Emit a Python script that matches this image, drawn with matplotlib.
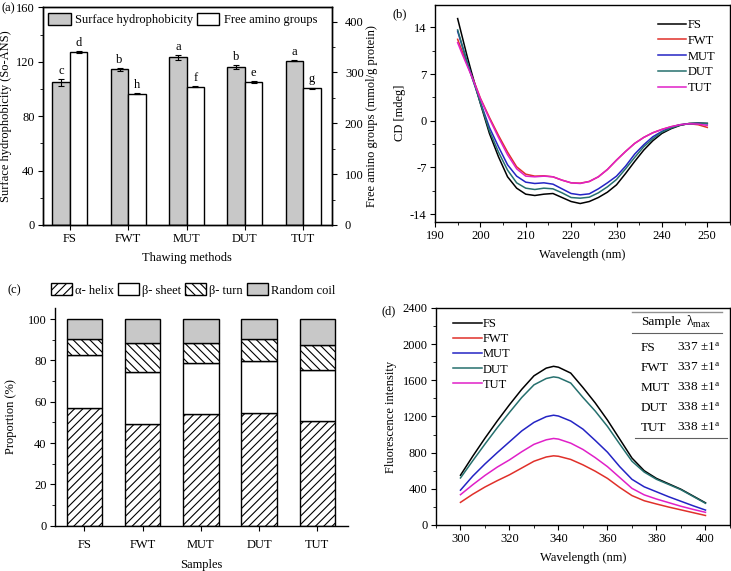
import numpy as np
import matplotlib
matplotlib.use("Agg")
import matplotlib.pyplot as plt
from matplotlib.patches import Patch
from matplotlib.ticker import MultipleLocator

plt.rcParams['font.family'] = ['Liberation Serif', 'DejaVu Serif']
plt.rcParams['font.size'] = 9
plt.rcParams['axes.unicode_minus'] = False
plt.rcParams['mathtext.fontset'] = 'custom'
plt.rcParams['mathtext.rm'] = 'Liberation Serif'
plt.rcParams['mathtext.it'] = 'Liberation Serif'
plt.rcParams['hatch.linewidth'] = 0.8
plt.rcParams['axes.linewidth'] = 1.0
plt.rcParams['xtick.direction'] = 'out'
plt.rcParams['ytick.direction'] = 'out'
plt.rcParams['xtick.major.size'] = 3.5
plt.rcParams['ytick.major.size'] = 3.5
plt.rcParams['xtick.minor.size'] = 2
plt.rcParams['ytick.minor.size'] = 2
plt.rcParams['xtick.major.pad'] = 2.5
plt.rcParams['ytick.major.pad'] = 2.5

FS = 9

# (a) surface hydrophobicity / free amino groups
methods = ['FS', 'FWT', 'MUT', 'DUT', 'TUT']
hydro = [104.8, 114.6, 123.2, 116.3, 120.7]
hydro_err = [2.5, 1.0, 2.0, 1.5, 0.4]
hydro_sig = ['c', 'b', 'a', 'b', 'a']
amino = [340.5, 258.3, 272.0, 281.3, 268.8]
amino_err = [1.5, 1.5, 1.5, 1.5, 1.5]
amino_sig = ['d', 'h', 'f', 'e', 'g']

# (b) CD spectra
cd_wl = [195, 196, 197, 198, 199, 200, 202, 204, 206, 208, 210, 212, 214, 216, 218,
         220, 222, 224, 226, 228, 230, 232, 234, 236, 238, 240, 242, 244, 246, 248, 250]
cd_fs = [15.3, 12.6, 9.9, 7.4, 5.0, 2.6, -1.9, -5.4, -8.4, -10.1, -11.0, -11.2, -11.0, -10.9, -11.5,
         -12.1, -12.4, -12.1, -11.5, -10.7, -9.6, -7.9, -6.1, -4.4, -3.0, -1.9, -1.2, -0.7, -0.4, -0.35, -0.4]
cd_fwt = [12.2, 10.4, 8.6, 6.9, 5.2, 3.4, 0.5, -2.2, -4.7, -6.9, -8.0, -8.3, -8.25, -8.4, -8.9,
          -9.3, -9.35, -9.1, -8.4, -7.3, -5.9, -4.6, -3.4, -2.5, -1.8, -1.3, -0.9, -0.6, -0.45, -0.6, -1.0]
cd_mut = [13.4, 11.2, 9.0, 6.9, 4.9, 2.8, -1.0, -3.9, -6.6, -8.3, -9.2, -9.4, -9.3, -9.5, -10.2,
          -10.9, -11.1, -10.95, -10.2, -9.3, -8.3, -6.8, -5.0, -3.6, -2.4, -1.6, -1.0, -0.6, -0.45, -0.4, -0.45]
cd_dut = [13.6, 11.3, 9.0, 6.8, 4.8, 2.7, -1.5, -4.7, -7.4, -9.3, -10.1, -10.3, -10.1, -10.2, -10.8,
          -11.5, -11.6, -11.45, -10.8, -9.9, -8.8, -7.2, -5.5, -3.9, -2.7, -1.7, -1.1, -0.65, -0.45, -0.4, -0.4]
cd_tut = [11.7, 10.0, 8.4, 6.8, 5.1, 3.3, 0.3, -2.5, -5.1, -7.2, -8.3, -8.4, -8.3, -8.4, -8.9,
          -9.3, -9.4, -9.1, -8.4, -7.3, -5.9, -4.6, -3.4, -2.5, -1.8, -1.3, -0.9, -0.6, -0.45, -0.5, -0.7]

# (c) secondary structure (%)
helix = [56.8, 49.3, 54.0, 54.5, 50.7]
sheet = [25.7, 25.0, 24.8, 25.0, 24.8]
turn = [7.8, 14.2, 9.7, 10.8, 11.8]
coil = [9.7, 11.5, 11.5, 9.7, 12.7]

# (d) intrinsic fluorescence
fl_wl = [300, 305, 310, 315, 320, 325, 330, 335, 338, 340, 345, 350, 355, 360,
         365, 370, 375, 380, 385, 390, 395, 400]
fl_fs = [550, 760, 960, 1150, 1330, 1500, 1650, 1735, 1755, 1745, 1680, 1520, 1350, 1160,
         950, 740, 600, 515, 455, 395, 320, 245]
fl_fwt = [250, 340, 420, 490, 555, 630, 705, 752, 765, 760, 725, 665, 595, 515,
          415, 325, 268, 232, 198, 167, 136, 105]
fl_mut = [385, 540, 675, 800, 920, 1040, 1135, 1198, 1214, 1205, 1150, 1060, 935, 805,
          645, 505, 422, 367, 312, 262, 212, 165]
fl_dut = [520, 710, 895, 1075, 1245, 1410, 1550, 1620, 1638, 1630, 1570, 1410, 1260, 1090,
          895, 705, 585, 505, 448, 390, 315, 240]
fl_tut = [335, 445, 548, 640, 720, 810, 892, 942, 957, 950, 905, 835, 745, 645,
          525, 405, 333, 287, 247, 207, 172, 140]
lam_max = ['337', '337', '338', '338', '338']

colors = {'FS': 'black', 'FWT': '#e0302a', 'MUT': '#2424c4', 'DUT': '#26706e', 'TUT': '#e020c8'}

fig = plt.figure(figsize=(7.31, 5.71), dpi=100)

# ---------------- (a)
ax = fig.add_axes([0.0588, 0.606, 0.395, 0.381])
ax2 = ax.twinx()
x = np.arange(len(methods))
w = 0.3
ax.bar(x - w / 2, hydro, w, color='#c8c8c8', edgecolor='black', linewidth=1,
       yerr=hydro_err, capsize=2.5, error_kw=dict(elinewidth=0.8, capthick=0.8))
ax2.bar(x + w / 2, amino, w, color='white', edgecolor='black', linewidth=1,
        yerr=amino_err, capsize=2.5, error_kw=dict(elinewidth=0.8, capthick=0.8))
for i in range(len(methods)):
    ax.annotate(hydro_sig[i], (x[i] - w / 2, hydro[i] + hydro_err[i]), xytext=(0, 1.5),
                textcoords='offset points', ha='center', va='bottom', fontsize=FS)
    ax2.annotate(amino_sig[i], (x[i] + w / 2, amino[i] + amino_err[i]), xytext=(0, 1.5),
                 textcoords='offset points', ha='center', va='bottom', fontsize=FS)
ax.set_xlim(-0.463, 4.49)
ax.set_ylim(0, 160)
ax2.set_ylim(0, 428)
ax.set_yticks([0, 40, 80, 120, 160])
ax.yaxis.set_minor_locator(MultipleLocator(20))
ax2.set_yticks([0, 100, 200, 300, 400])
ax2.yaxis.set_minor_locator(MultipleLocator(50))
ax.set_xticks(x)
ax.set_xticklabels(methods)
ax.tick_params(labelsize=FS)
ax2.tick_params(labelsize=FS, pad=6)
ax.set_xlabel('Thawing methods', fontsize=FS, labelpad=5)
ax.set_ylabel('Surface hydrophobicity (So-ANS)', fontsize=FS, labelpad=3)
ax2.set_ylabel('Free amino groups (mmol/g protein)', fontsize=FS, labelpad=2)
ax.legend(handles=[Patch(facecolor='#c8c8c8', edgecolor='black', label='Surface hydrophobicity'),
                   Patch(facecolor='white', edgecolor='black', label='Free amino groups')],
          loc='center', bbox_to_anchor=(0.484, 0.943), ncol=2, frameon=False, fontsize=FS,
          handlelength=1.8, handleheight=1.1, handletextpad=0.35, columnspacing=0.3)
fig.text(0.002, 0.985, '(a)', fontsize=FS, va='center')

# ---------------- (b)
bx = fig.add_axes([0.595, 0.612, 0.4036, 0.380])
for name, ys in zip(methods, [cd_fs, cd_fwt, cd_mut, cd_dut, cd_tut]):
    bx.plot(cd_wl, ys, color=colors[name], lw=1.1, label=name)
bx.set_xlim(190, 255)
bx.set_ylim(-15.1, 17.4)
bx.set_xticks([190, 200, 210, 220, 230, 240, 250])
bx.xaxis.set_minor_locator(MultipleLocator(5))
bx.set_yticks([-14, -7, 0, 7, 14])
bx.yaxis.set_minor_locator(MultipleLocator(3.5))
bx.tick_params(labelsize=FS)
bx.set_xlabel('Wavelength (nm)', fontsize=FS, labelpad=5)
bx.set_ylabel('CD [mdeg]', fontsize=FS, labelpad=3)
bx.legend(loc='upper right', bbox_to_anchor=(0.99, 0.985), frameon=False, fontsize=FS,
          handlelength=2.2, handletextpad=0.2, labelspacing=0.3)
fig.text(0.537, 0.975, '(b)', fontsize=FS, va='center')

# ---------------- (c)
cx = fig.add_axes([0.0752, 0.0793, 0.4008, 0.3807])
bw = 0.61
b1 = cx.bar(x, helix, bw, color='white', edgecolor='black', hatch='////', lw=1, label='\u03b1- helix')
bottom = np.array(helix)
b2 = cx.bar(x, sheet, bw, bottom=bottom, color='white', edgecolor='black', lw=1, label='\u03b2- sheet')
bottom = bottom + np.array(sheet)
b3 = cx.bar(x, turn, bw, bottom=bottom, color='white', edgecolor='black', hatch='\\\\\\\\', lw=1, label='\u03b2- turn')
bottom = bottom + np.array(turn)
b4 = cx.bar(x, coil, bw, bottom=bottom, color='#c8c8c8', edgecolor='black', lw=1, label='Random coil')
cx.set_xlim(-0.503, 4.525)
cx.set_ylim(0, 105.2)
cx.set_yticks([0, 20, 40, 60, 80, 100])
cx.yaxis.set_minor_locator(MultipleLocator(10))
cx.set_xticks(x)
cx.set_xticklabels(methods)
cx.tick_params(labelsize=FS)
cx.tick_params(axis='x', pad=6)
cx.spines['top'].set_visible(False)
cx.spines['right'].set_visible(False)
cx.set_xlabel('Samples', fontsize=FS, labelpad=6)
cx.set_ylabel('Proportion (%)', fontsize=FS, labelpad=8)
fig.legend(handles=[b1, b2, b3, b4], loc='center', bbox_to_anchor=(0.264, 0.492), ncol=4,
           frameon=False, fontsize=FS, handlelength=1.7, handleheight=1.1,
           handletextpad=0.2, columnspacing=0.35)
fig.text(0.01, 0.492, '(c)', fontsize=FS, va='center')

# ---------------- (d)
dx = fig.add_axes([0.5964, 0.0806, 0.4022, 0.380])
for name, ys in zip(methods, [fl_fs, fl_fwt, fl_mut, fl_dut, fl_tut]):
    dx.plot(fl_wl, ys, color=colors[name], lw=1.1, label=name)
dx.set_xlim(290, 410)
dx.set_ylim(0, 2400)
dx.set_xticks([300, 320, 340, 360, 380, 400])
dx.xaxis.set_minor_locator(MultipleLocator(10))
dx.set_yticks([0, 400, 800, 1200, 1600, 2000, 2400])
dx.yaxis.set_minor_locator(MultipleLocator(200))
dx.tick_params(labelsize=FS)
dx.set_xlabel('Wavelength (nm)', fontsize=FS, labelpad=5)
dx.set_ylabel('Fluorescence intensity', fontsize=FS, labelpad=4)
dx.legend(loc='upper left', bbox_to_anchor=(0.02, 1.005), frameon=False, fontsize=FS,
          handlelength=2.3, handletextpad=0.1, labelspacing=0.25)
# table of lambda max
t = dx.transAxes
dx.plot([0.667, 0.973], [0.982, 0.982], color='#909090', lw=1, transform=t, clip_on=False)
dx.plot([0.667, 0.973], [0.885, 0.885], color='#606060', lw=0.8, transform=t, clip_on=False)
dx.plot([0.677, 0.99], [0.401, 0.401], color='#606060', lw=0.8, transform=t, clip_on=False)
dx.text(0.697, 0.935, 'Sample', transform=t, fontsize=FS + 0.5, va='center')
dx.text(0.85, 0.935, r'$\lambda_{\rm max}$', transform=t, fontsize=FS + 1, va='center')
row_y = [0.816, 0.724, 0.631, 0.539, 0.447]
for i in range(len(methods)):
    dx.text(0.697, row_y[i], methods[i], transform=t, fontsize=FS + 0.5, va='center')
    dx.text(0.82, row_y[i], lam_max[i] + r' $\pm$1$^{\rm a}$', transform=t, fontsize=FS + 0.5, va='center')
fig.text(0.522, 0.454, '(d)', fontsize=FS, va='center')

fig.savefig('out.png', dpi=100)
